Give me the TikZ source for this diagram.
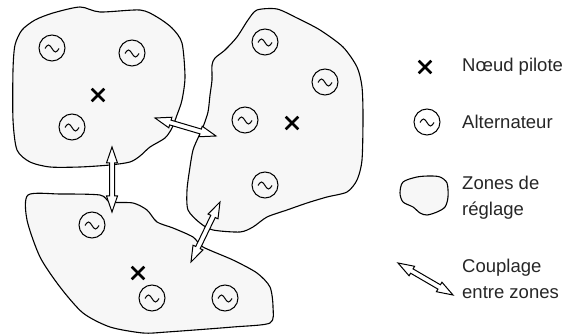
\documentclass[tikz,border=0pt]{standalone}
\usepackage{fontspec}
\setmainfont{Liberation Sans}
\usepackage{tikz}
\usetikzlibrary{calc, shapes.misc}

\tikzset{
  zone/.style={draw=black, line width=1.1pt, fill=black!3},
  alt/.style={circle, draw=black, line width=1pt, fill=black!3, minimum size=26pt, inner sep=0pt,
    path picture={\draw[line width=1pt] ($(path picture bounding box.center)+(-7pt,-0.5pt)$)
      sin ++(3.5pt,3.5pt) cos ++(3.5pt,-3.5pt) sin ++(3.5pt,-3.5pt) cos ++(3.5pt,3.5pt);}},
  pilote/.style={cross out, draw=black, line width=2.6pt, minimum size=10pt, inner sep=0pt},
  couplage/.style={draw=black, line width=1pt, fill=white, line join=miter},
  legende/.style={anchor=west, font=\fontsize{18.5}{26}\selectfont, text=black!85, align=left, inner sep=0pt}
}

% double arrow between two named coordinates
\newcommand{\couplage}[2]{%
  \draw[couplage] (#1)
    -- ($(#1)!16pt!(#2)!5.5pt!90:(#2)$)
    -- ($(#1)!16pt!(#2)!2.5pt!90:(#2)$)
    -- ($(#2)!16pt!(#1)!2.5pt!-90:(#1)$)
    -- ($(#2)!16pt!(#1)!5.5pt!-90:(#1)$)
    -- (#2)
    -- ($(#2)!16pt!(#1)!5.5pt!90:(#1)$)
    -- ($(#2)!16pt!(#1)!2.5pt!90:(#1)$)
    -- ($(#1)!16pt!(#2)!2.5pt!-90:(#2)$)
    -- ($(#1)!16pt!(#2)!5.5pt!-90:(#2)$)
    -- cycle;}

\begin{document}
\begin{tikzpicture}[x=1pt, y=-1pt]
  \useasboundingbox (0,0) rectangle (564,336);

  % Zone 1
  \draw[zone] plot[smooth cycle, tension=0.45] coordinates {
    (15,45) (22,30) (35,20) (53,13) (80,7) (100,12) (140,10) (157,17) (172,28)
    (182,43) (185,77) (182,100) (177,115) (172,128) (165,138) (150,147) (140,156)
    (130,162) (110,165) (80,167) (50,167) (30,162) (17,150) (13,120) (13,70)};
  % Zone 2
  \draw[zone] plot[smooth cycle, tension=0.45] coordinates {
    (257,10) (277,9) (297,18) (320,30) (343,47) (357,67) (362,87) (363,117)
    (362,160) (357,180) (347,192) (327,197) (307,203) (287,210) (267,217) (253,227)
    (240,232) (213,230) (200,223) (188,210) (187,190) (190,167) (193,150) (198,138)
    (203,127) (208,112) (210,95) (212,80) (212,65) (215,58) (225,50) (237,37) (248,20)};
  % Zone 3
  \draw[zone] plot[smooth cycle, tension=0.45] coordinates {
    (28,195) (60,194) (100,195) (110,202) (133,203) (147,210) (157,222) (173,228)
    (193,237) (203,247) (233,260) (257,273) (270,287) (273,307) (270,323) (233,327)
    (167,332) (143,333) (110,327) (83,313) (60,287) (40,257) (27,220)};

  % Alternateurs
  \node[alt] (g11) at (52,48) {};
  \node[alt] (g12) at (132,53) {};
  \node[alt] (g13) at (72,127) {};
  \node[alt] (g21) at (265,42) {};
  \node[alt] (g22) at (325,82) {};
  \node[alt] (g23) at (245,120) {};
  \node[alt] (g24) at (265,185) {};
  \node[alt] (g31) at (92,225) {};
  \node[alt] (g32) at (152,298) {};
  \node[alt] (g33) at (225,298) {};

  % Noeuds pilotes
  \node[pilote] (p1) at (98,95) {};
  \node[pilote] (p2) at (292,123) {};
  \node[pilote] (p3) at (138,273) {};

  % Couplages
  \coordinate (c12a) at (155,118);
  \coordinate (c12b) at (216,136);
  \coordinate (c13a) at (112,147);
  \coordinate (c13b) at (112,212);
  \coordinate (c23a) at (220,202);
  \coordinate (c23b) at (191,262);
  \couplage{c12a}{c12b}
  \couplage{c13a}{c13b}
  \couplage{c23a}{c23b}

  % Legende
  \node[pilote] (lp) at (425,67) {};
  \node[legende] (tp) at (462,67) {Nœud pilote};
  \node[alt, fill=white] (lg) at (427,122) {};
  \node[legende] (tg) at (462,122) {Alternateur};
  \draw[zone] plot[smooth cycle, tension=0.5] coordinates {
    (400,193) (403,182) (417,177) (430,176) (440,177) (447,183) (448,197)
    (445,207) (437,212) (427,215) (420,213) (413,207) (403,202)};
  \node[legende] (tz) at (462,198) {Zones de\\réglage};
  \coordinate (lca) at (398,263);
  \coordinate (lcb) at (453,295);
  \couplage{lca}{lcb}
  \node[legende] (tc) at (462,279) {Couplage\\entre zones};
\end{tikzpicture}
\end{document}
